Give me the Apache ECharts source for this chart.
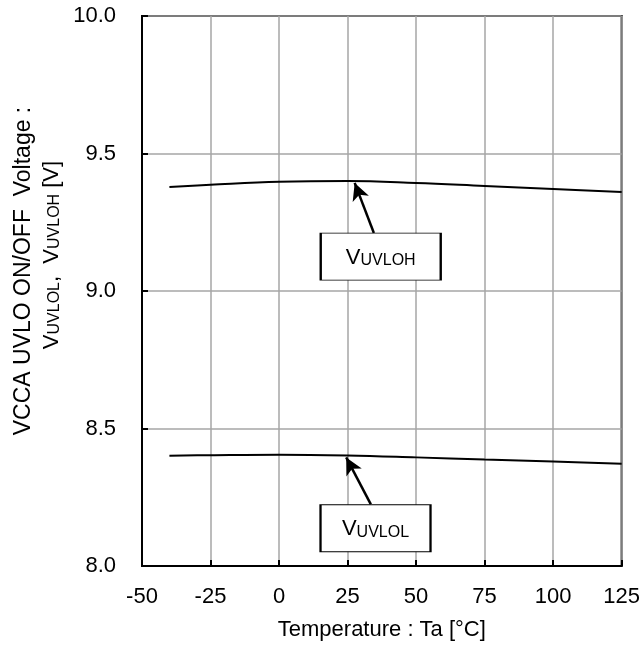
<!DOCTYPE html>
<html>
<head>
<meta charset="utf-8">
<script src="https://cdn.jsdelivr.net/npm/echarts@6/dist/echarts.min.js"></script>
<style>
html,body{margin:0;padding:0;background:#fff;}
#chart{width:643px;height:648px;}
</style>
</head>
<body>
<div id="chart"></div>
<script>
var temps = [-40, -25, 0, 25, 50, 75, 100, 125];
var vuvloh = [9.378, 9.386, 9.397, 9.400, 9.393, 9.382, 9.371, 9.360];
var vuvlol = [8.401, 8.403, 8.405, 8.402, 8.395, 8.387, 8.380, 8.372];
var xTicks = [-50, -25, 0, 25, 50, 75, 100, 125];
var yTicks = [8.0, 8.5, 9.0, 9.5, 10.0];
// annotations: arrow tail, arrow tip, box center (data coordinates)
var annH = {tail: [34.6, 9.211], tip: [27.6, 9.393], box: [37.1, 9.125], w: 120, sub: 'UVLOH'};
var annL = {tail: [33.5, 8.224], tip: [24.5, 8.395], box: [35.2, 8.137], w: 110, sub: 'UVLOL'};

var FONT = '"Liberation Sans", Arial, sans-serif';
var chart = echarts.init(document.getElementById('chart'));

function pairs(xs, ys){ return xs.map(function(x,i){return [x, ys[i]];}); }

function lineSeries(name, data, a){
  return {
    name: name, type: 'line', data: pairs(temps, data),
    smooth: 0.4, showSymbol: false, symbol: 'none',
    lineStyle: {color: '#000', width: 2},
    z: 3,
    markLine: {
      silent: true,
      symbol: ['none', 'arrow'],
      symbolSize: [13, 17],
      lineStyle: {color: '#000', width: 2.5, type: 'solid'},
      label: {show: false},
      data: [[{coord: a.tail}, {coord: a.tip}]]
    },
    markPoint: {
      silent: true,
      symbol: 'rect',
      symbolSize: [a.w, 47],
      itemStyle: {color: '#fff', borderColor: '#000', borderWidth: 1.5},
      label: {
        show: true, position: 'inside',
        formatter: '{v|V}{s|' + a.sub + '}',
        rich: {
          v: {fontFamily: FONT, fontSize: 22, color: '#000', verticalAlign: 'bottom', lineHeight: 24},
          s: {fontFamily: FONT, fontSize: 16, color: '#000', verticalAlign: 'bottom', lineHeight: 20}
        }
      },
      data: [{coord: a.box}]
    }
  };
}

chart.setOption({
  animation: false,
  backgroundColor: '#fff',
  grid: {left: 142, right: 21, top: 16, bottom: 82, show: true, borderColor: '#000', borderWidth: 2, backgroundColor: 'transparent'},
  xAxis: {
    type: 'value', min: xTicks[0], max: xTicks[xTicks.length-1], interval: 25,
    axisLine: {show: true, onZero: false, lineStyle: {color: '#000', width: 2}},
    axisTick: {show: true, inside: true, length: 6, lineStyle: {color: '#000', width: 2}},
    axisLabel: {color: '#000', fontFamily: FONT, fontSize: 22, margin: 20},
    splitLine: {show: true, lineStyle: {color: '#a6a6a6', width: 1.5}},
    name: 'Temperature : Ta [°C]', nameLocation: 'middle', nameGap: 53,
    nameTextStyle: {color: '#000', fontFamily: FONT, fontSize: 22}
  },
  yAxis: {
    type: 'value', min: yTicks[0], max: yTicks[yTicks.length-1], interval: 0.5,
    axisLine: {show: true, onZero: false, lineStyle: {color: '#000', width: 2}},
    axisTick: {show: true, inside: true, length: 6, lineStyle: {color: '#000', width: 2}},
    axisLabel: {color: '#000', fontFamily: FONT, fontSize: 22, margin: 26, formatter: function(v){return v.toFixed(1);}},
    splitLine: {show: true, lineStyle: {color: '#a6a6a6', width: 1.5}}
  },
  graphic: [
    {type: 'text', x: 24, y: 271, rotation: Math.PI/2,
     style: {text: 'VCCA UVLO ON/OFF  Voltage :', font: '23px ' + FONT, fill: '#000', align: 'center', verticalAlign: 'middle'}},
    {type: 'text', x: 51, y: 255, rotation: Math.PI/2,
     style: {text: '{v|V}{s|UVLOL}{v|,  V}{s|UVLOH}{v| [V]}', align: 'center', verticalAlign: 'middle', fill: '#000',
       rich: {
         v: {font: '22px ' + FONT, fill: '#000', verticalAlign: 'bottom', lineHeight: 24},
         s: {font: '16px ' + FONT, fill: '#000', verticalAlign: 'bottom', lineHeight: 20}
       }}}
  ],
  series: [
    lineSeries('VUVLOH', vuvloh, annH),
    lineSeries('VUVLOL', vuvlol, annL)
  ]
});
</script>
</body>
</html>
